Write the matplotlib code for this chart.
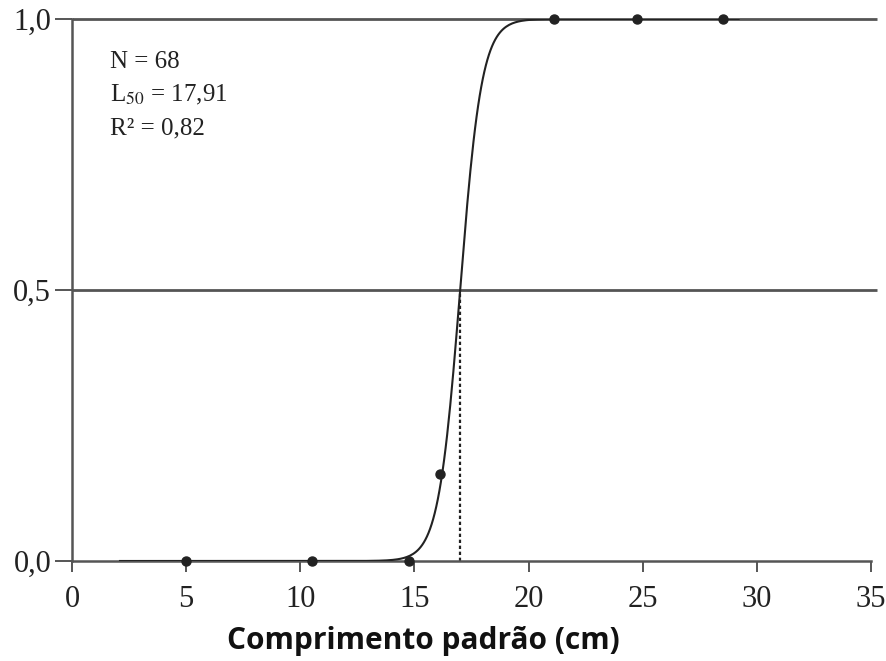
"""Maturity ogive: proportion of mature fish by standard length."""

import matplotlib.pyplot as plt
import numpy as np

# observed proportions of mature individuals per length class
length_cm = [5.0, 10.5, 14.75, 16.1, 21.1, 24.75, 28.5]
prop_mature = [0.0, 0.0, 0.0, 0.16, 1.0, 1.0, 1.0]

# logistic fit drawn over the sampled length range
fit_midpoint = 17.0
fit_slope = 2.1
fit_range = (2.1, 29.2)

x_ticks = [0, 5, 10, 15, 20, 25, 30, 35]
y_ticks = [0.0, 0.5, 1.0]
y_tick_labels = ["0,0", "0,5", "1,0"]
stats_lines = ["N = 68", "L$_{50}$ = 17,91", "R² = 0,82"]

plt.rcParams["mathtext.fontset"] = "stix"
serif = "Liberation Serif"
ink = "#222222"

fig = plt.figure(figsize=(8.86, 6.61), dpi=100)
ax = fig.add_axes([0.0813, 0.1513, 0.9018, 0.82])

xs = np.linspace(fit_range[0], fit_range[1], 400)
ys = 1.0 / (1.0 + np.exp(-fit_slope * (xs - fit_midpoint)))
ax.plot(xs, ys, color=ink, linewidth=1.5, zorder=3)
ax.plot(length_cm, prop_mature, "o", color=ink, markersize=6.5,
        clip_on=False, zorder=4)

# reference lines at 50 % and 100 %, running just past the last tick
ax.hlines([0.5, 1.0], 0, 35.25, colors="#555555", linewidth=2.0,
          clip_on=False, zorder=2)
ax.vlines(fit_midpoint, 0, 0.5, colors=ink, linewidth=1.6,
          linestyles=(0, (1.5, 1.2)), zorder=2)

ax.set_xlim(0, 35)
ax.set_ylim(0, 1)
for side in ("top", "right"):
    ax.spines[side].set_visible(False)
for side in ("left", "bottom"):
    ax.spines[side].set_color("#555555")
    ax.spines[side].set_linewidth(1.8)

ax.set_xticks(x_ticks)
ax.set_yticks(y_ticks, y_tick_labels)
ax.tick_params(axis="both", direction="out", length=12, width=1.4,
               color="#555555", labelcolor=ink, pad=3)
ax.tick_params(axis="x", length=8, pad=9)
for label in ax.get_xticklabels() + ax.get_yticklabels():
    label.set_fontfamily(serif)
    label.set_fontsize(22)

ax.set_xlabel("Comprimento padrão (cm)", fontfamily="Open Sans",
              fontweight="bold", fontsize=21.5, color="#111111",
              va="center")
ax.xaxis.set_label_coords(0.44, -0.147)

for i, line in enumerate(stats_lines):
    ax.text(1.65, 0.92 - i * 0.061, line, fontfamily=serif, fontsize=18,
            color=ink, va="center", ha="left")

fig.savefig("out.png", dpi=100)
